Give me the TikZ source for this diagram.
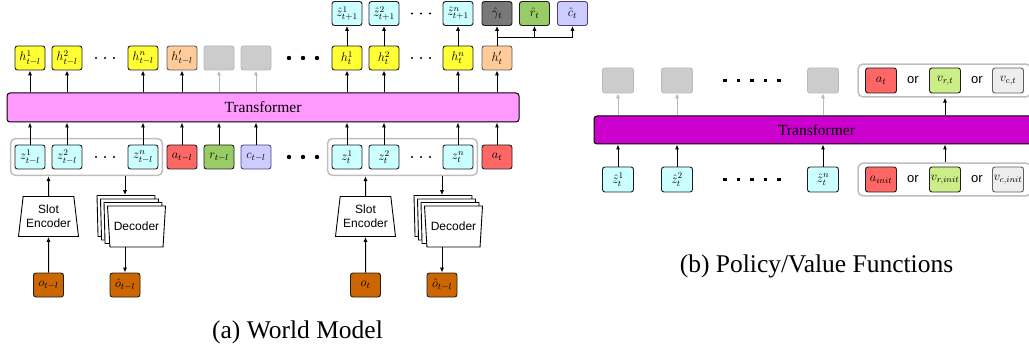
\RequirePackage{fix-cm}
\documentclass[tikz,border=0pt]{standalone}
\usepackage{fontspec}
\usepackage{amsmath}
\usetikzlibrary{arrows.meta,positioning,calc,fit,shapes.geometric}
\newfontfamily\capfont{Liberation Serif}
\newfontfamily\helvfont{Liberation Sans}
\definecolor{zfill}{RGB}{204,255,255}
\definecolor{hfill}{RGB}{255,255,51}
\definecolor{hpfill}{RGB}{255,204,153}
\definecolor{afill}{RGB}{255,102,102}
\definecolor{rfill}{RGB}{153,204,102}
\definecolor{cfill}{RGB}{204,204,255}
\definecolor{cedge}{RGB}{85,60,125}
\definecolor{gamfill}{RGB}{120,120,120}
\definecolor{ofill}{RGB}{204,102,0}
\definecolor{vrfill}{RGB}{204,238,136}
\definecolor{vcfill}{RGB}{238,238,238}
\definecolor{vcedge}{RGB}{95,95,95}
\definecolor{tokenedge}{RGB}{30,30,30}
\definecolor{hpedge}{RGB}{90,90,90}
\definecolor{ghostfill}{RGB}{204,204,204}
\definecolor{ghostline}{RGB}{185,185,185}
\definecolor{groupline}{RGB}{190,190,190}
\definecolor{trafolight}{RGB}{255,153,255}
\definecolor{trafodark}{RGB}{204,0,204}

\begin{document}
\begin{tikzpicture}[
  x=1pt,y=-1pt,
  font=\fontsize{12.5}{15}\selectfont,
  >=Latex,
  arrow/.style={-{Latex[length=5pt,width=4.2pt]},line width=1pt,draw=black},
  ghostarrow/.style={arrow,draw=ghostline},
  token/.style={rounded corners=2.5pt,draw=tokenedge,line width=0.9pt,
    minimum width=30pt,minimum height=24pt,inner sep=0pt},
  ztok/.style={token,fill=zfill},
  htok/.style={token,fill=hfill},
  hptok/.style={token,fill=hpfill,draw=hpedge},
  atok/.style={token,fill=afill},
  rtok/.style={token,fill=rfill},
  ctok/.style={token,fill=cfill,draw=cedge},
  gamtok/.style={token,fill=gamfill},
  otok/.style={token,fill=ofill},
  vrtok/.style={token,fill=vrfill},
  vctok/.style={token,fill=vcfill,draw=vcedge},
  pvsize/.style={minimum width=31pt,minimum height=25pt},
  ghost/.style={token,fill=ghostfill,draw=ghostline},
  group/.style={rounded corners=5pt,draw=groupline,line width=1.5pt,
    inner xsep=4pt,inner ysep=6pt},
  trafobar/.style={rounded corners=3pt,draw=black,line width=1pt,
    font=\capfont\fontsize{15.5}{18}\selectfont},
  encoder/.style={trapezium,trapezium left angle=81,trapezium right angle=81,
    trapezium stretches body,draw=black,line width=0.9pt,fill=white,
    minimum width=60pt,minimum height=40pt,inner xsep=0pt,align=center,
    font=\helvfont\fontsize{12}{14}\selectfont},
  decoder/.style={encoder,shape border rotate=180,minimum width=58pt,minimum height=41pt},
  ortext/.style={font=\helvfont\fontsize{13}{15}\selectfont},
  caption/.style={anchor=base,font=\capfont\fontsize{25.5}{30}\selectfont}
]
\useasboundingbox (0,0) rectangle (1029,350);

% -------------------------------------------------------------------------
% (a) World model, step t-l
% -------------------------------------------------------------------------
\node[ztok] (zp1) at (30,157) {$z^1_{t-l}$};
\node[ztok] (zp2) at (67,157) {$z^2_{t-l}$};
\node[ztok] (zpn) at (143,157) {$z^n_{t-l}$};
\node[atok] (ap) at (182,157) {$a_{t-l}$};
\node[rtok] (rp) at (219,157) {$r_{t-l}$};
\node[ctok] (cp) at (256,157) {$c_{t-l}$};
\node[group,fit=(zp1)(zpn)] (gprev) {};

\node[htok] (hp1) at (30,58) {$h^1_{t-l}$};
\node[htok] (hp2) at (67,58) {$h^2_{t-l}$};
\node[htok] (hpn) at (143,58) {$h^n_{t-l}$};
\node[hptok] (hpp) at (182,58) {$h'_{t-l}$};
\node[ghost] (gp1) at (219,58) {};
\node[ghost] (gp2) at (256,58) {};

\node[encoder] (encp) at (48.5,216.5) {Slot\\Encoder};
\foreach \k in {3,2,1}
  {\node[decoder] (decp\k) at ($(136.5,226.5)+(-3.5*\k,-3.5*\k)$) {};}
\node[decoder] (decp0) at (136.5,226.5) {Decoder};
\node[otok] (op) at (48.5,285) {$o_{t-l}$};
\node[otok] (ohp) at (125,285) {$\hat{o}_{t-l}$};

% -------------------------------------------------------------------------
% (a) World model, step t
% -------------------------------------------------------------------------
\node[ztok] (zt1) at (347,157) {$z^1_t$};
\node[ztok] (zt2) at (384,157) {$z^2_t$};
\node[ztok] (ztn) at (458,157) {$z^n_t$};
\node[atok] (at) at (497,157) {$a_t$};
\node[group,fit=(zt1)(ztn)] (gnow) {};

\node[htok] (ht1) at (347,58) {$h^1_t$};
\node[htok] (ht2) at (384,58) {$h^2_t$};
\node[htok] (htn) at (458,58) {$h^n_t$};
\node[hptok] (hpt) at (497,58) {$h'_t$};

\node[ztok] (zn1) at (347,13.5) {$\hat{z}^1_{t+1}$};
\node[ztok] (zn2) at (384,13.5) {$\hat{z}^2_{t+1}$};
\node[ztok] (znn) at (458,13.5) {$\hat{z}^n_{t+1}$};
\node[gamtok] (gam) at (497,13.5) {$\hat{\gamma}_t$};
\node[rtok] (rht) at (534.5,13.5) {$\hat{r}_t$};
\node[ctok] (cht) at (572.5,13.5) {$\hat{c}_t$};

\node[encoder] (enct) at (365.5,216.5) {Slot\\Encoder};
\foreach \k in {3,2,1}
  {\node[decoder] (dect\k) at ($(453.5,226.5)+(-3.5*\k,-3.5*\k)$) {};}
\node[decoder] (dect0) at (453.5,226.5) {Decoder};
\node[otok] (ot) at (365.5,285) {$o_t$};
\node[otok] (oht) at (442,285) {$\hat{o}_{t-l}$};

\node[trafobar,fill=trafolight,minimum width=512pt,minimum height=29pt] (trafo)
  at (263,107.5) {Transformer};

% dots
\foreach \y in {58,157}
  {\foreach \x in {289,303,317} {\fill (\x,\y) circle (2.2pt);}
   \foreach \x in {96,105,114,412,421,430} {\fill (\x,\y) circle (1.2pt);}}
\foreach \x in {412,421,430} {\fill (\x,13.5) circle (1.2pt);}

% connectors
\foreach \a in {zp1,zp2,zpn,ap,rp,cp,zt1,zt2,ztn,at}
  {\draw[arrow] (\a) -- (\a |- trafo.south);}
\foreach \b in {hp1,hp2,hpn,hpp,ht1,ht2,htn,hpt}
  {\draw[arrow] (\b |- trafo.north) -- (\b);}
\foreach \b in {gp1,gp2}
  {\draw[ghostarrow] (\b |- trafo.north) -- (\b);}
\foreach \a/\b in {ht1/zn1,ht2/zn2,htn/znn,hpt/gam}
  {\draw[arrow] (\a) -- (\b);}
\coordinate (fork) at (497,38);
\draw[line width=1pt] (fork) -- (fork -| cht);
\draw[arrow] (fork -| rht) -- (rht);
\draw[arrow] (fork -| cht) -- (cht);

\draw[arrow] (op) -- (encp);
\draw[arrow] (encp) -- (encp |- gprev.south);
\draw[arrow] (gprev.south -| ohp) -- (decp3.90 -| ohp);
\draw[arrow] (decp0.270 -| ohp) -- (ohp);
\draw[arrow] (ot) -- (enct);
\draw[arrow] (enct) -- (enct |- gnow.south);
\draw[arrow] (gnow.south -| oht) -- (dect3.90 -| oht);
\draw[arrow] (dect0.270 -| oht) -- (oht);

\node[caption] (capa) at (297.5,338) {(a) World Model};

% -------------------------------------------------------------------------
% (b) Policy / value functions
% -------------------------------------------------------------------------
\node[trafobar,fill=trafodark,minimum width=445pt,minimum height=28pt] (trafob)
  at (816.5,130) {Transformer};

\node[ghost,pvsize] (gv1) at (618,80.5) {};
\node[ghost,pvsize] (gv2) at (677,80.5) {};
\node[ghost,pvsize] (gvn) at (823,80.5) {};
\node[ztok,pvsize] (zh1) at (618,179.5) {$\hat{z}^1_t$};
\node[ztok,pvsize] (zh2) at (677,179.5) {$\hat{z}^2_t$};
\node[ztok,pvsize] (zhn) at (823,179.5) {$\hat{z}^n_t$};

\node[atok,pvsize] (aout) at (881,80.5) {$a_t$};
\node[ortext] (or1) at (913,80.5) {or};
\node[vrtok,pvsize] (vrout) at (945,80.5) {$v_{r,t}$};
\node[ortext] (or2) at (977,80.5) {or};
\node[vctok,pvsize] (vcout) at (1008,80.5) {$v_{c,t}$};
\node[group,fit=(aout)(vcout),inner xsep=7pt,inner ysep=3.5pt] (outgrp) {};

\node[atok,pvsize] (ain) at (881,179.5) {$a_{init}$};
\node[ortext] (or3) at (913,179.5) {or};
\node[vrtok,pvsize] (vrin) at (945,179.5) {$v_{r,init}$};
\node[ortext] (or4) at (977,179.5) {or};
\node[vctok,pvsize] (vcin) at (1008,179.5) {$v_{c,init}$};
\node[group,fit=(ain)(vcin),inner xsep=7pt,inner ysep=3.5pt] (ingrp) {};

\foreach \y in {80.5,179.5}
  {\foreach \x in {725,738.5,752,765.5,779}
    {\fill (\x-1.6,\y-1.6) rectangle ++(3.2,3.2);}}

\foreach \a in {zh1,zh2,zhn}
  {\draw[arrow] (\a) -- (\a |- trafob.south);}
\foreach \b in {gv1,gv2,gvn}
  {\draw[ghostarrow] (\b |- trafob.north) -- (\b);}
\draw[arrow] (trafob.north -| vrout) -- (outgrp.south -| vrout);
\draw[arrow] (ingrp.north -| vrin) -- (trafob.south -| vrin);

\node[caption] (capb) at (816.5,272) {(b) Policy/Value Functions};
\end{tikzpicture}
\end{document}
